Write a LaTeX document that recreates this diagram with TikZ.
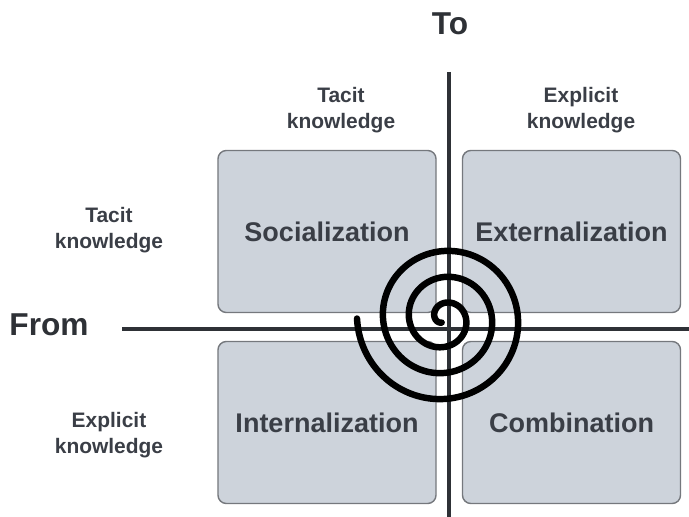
\documentclass[tikz,border=0pt]{standalone}
\usepackage{fontspec}
\setmainfont{Liberation Sans}
\usetikzlibrary{positioning}

\definecolor{boxfill}{HTML}{CDD3DB}
\definecolor{boxline}{HTML}{75787D}
\definecolor{inktext}{HTML}{3A3E46}
\definecolor{axisink}{HTML}{2E3136}

\tikzset{
  quad/.style={draw=boxline, line width=1pt, fill=boxfill, rounded corners=6pt,
    minimum width=5.45cm, minimum height=4.05cm, inner sep=0pt,
    text=inktext, font=\fontsize{19.2}{23}\selectfont\bfseries},
  sidelbl/.style={align=center, text=inktext, font=\fontsize{14.9}{19}\selectfont\bfseries},
  axislbl/.style={text=axisink, font=\fontsize{22.5}{26}\selectfont\bfseries},
  axisline/.style={draw=axisink, line width=3.2pt}
}

\begin{document}
\begin{tikzpicture}[x=0.025cm, y=-0.025cm]
  \useasboundingbox (0,0) rectangle (689,517);
		% quadrants
		\node[quad] (soc) at (327,231.5) {Socialization};
		\node[quad] (ext) at (571.5,231.5) {Externalization};
		\node[quad] (int) at (327,422.5) {Internalization};
		\node[quad] (com) at (571.5,422.5) {Combination};
		% axes
		\coordinate (hstart) at (122,329);
		\coordinate (hend) at (689,329);
		\coordinate (vstart) at (449,72);
		\coordinate (vend) at (449,517);
		\draw[axisline] (hstart) -- (hend);
		\draw[axisline] (vstart) -- (vend);
		% axis labels
		\node[axislbl] (to) at (450,24) {To};
		\node[axislbl] (from) at (49,325) {From};
		% knowledge labels
		\node[sidelbl] (toptacit) at (341,110) {Tacit\\knowledge};
		\node[sidelbl] (topexpl) at (581,110) {Explicit\\knowledge};
		\node[sidelbl] (lefttacit) at (109,230) {Tacit\\knowledge};
		\node[sidelbl] (leftexpl) at (109,435) {Explicit\\knowledge};
		% spiral
		\draw[black, line width=4.6pt, line cap=round, smooth, samples=240, domain=180:1320]
			plot ({444+(87-0.072222*(\x-180))*cos(\x)}, {318.5-(87-0.072222*(\x-180))*sin(\x)});
\end{tikzpicture}
\end{document}
